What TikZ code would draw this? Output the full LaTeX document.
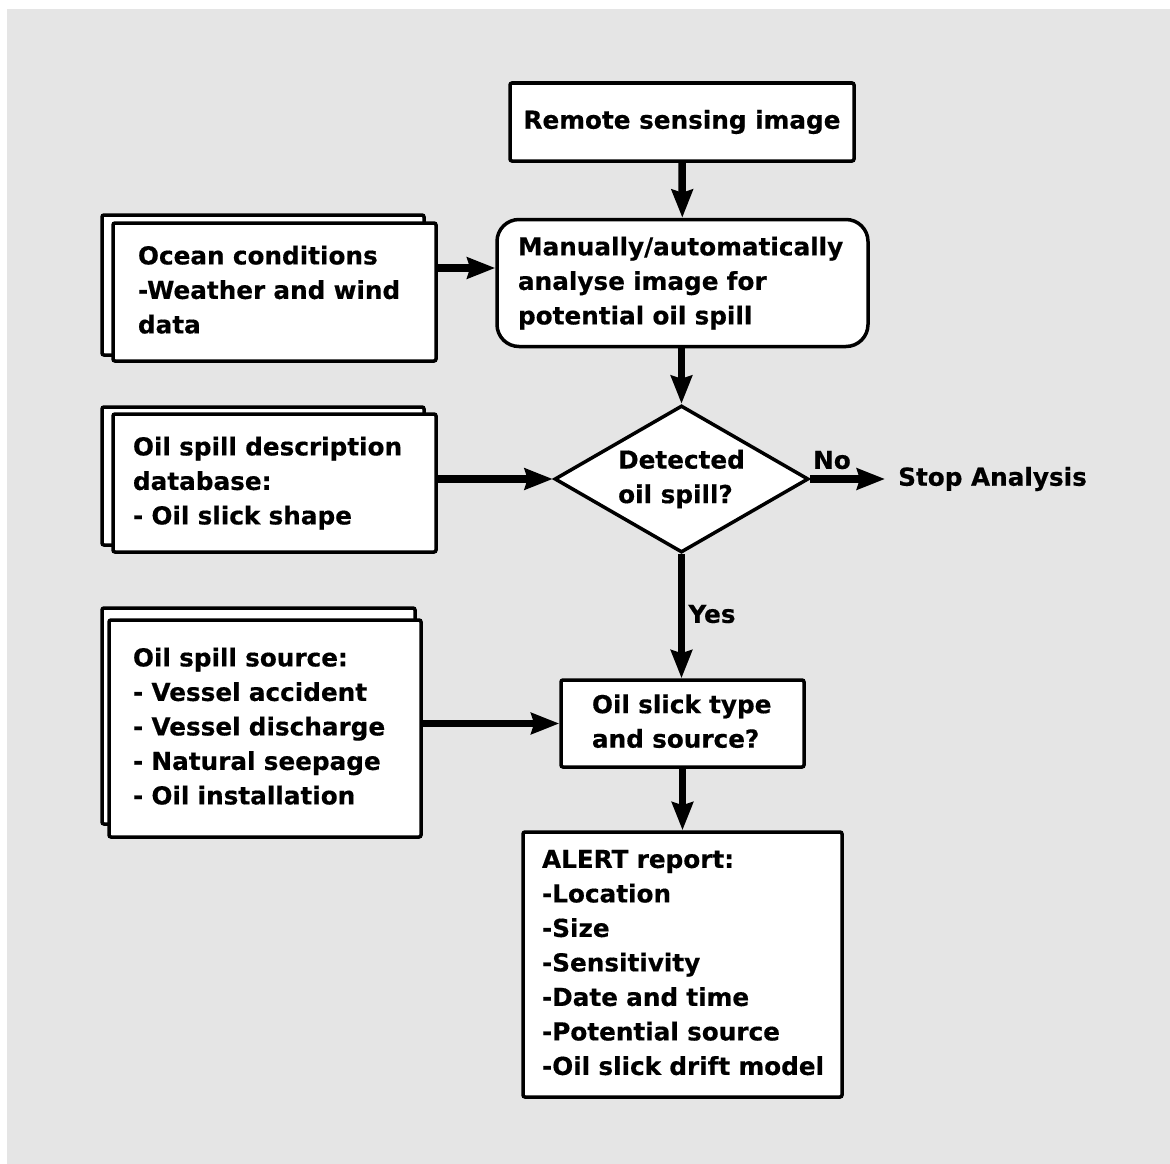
\documentclass[tikz,border=0pt]{standalone}
\usepackage{fontspec}
\setmainfont{DejaVu Sans}[BoldFeatures={FakeBold=0.5}]
\usetikzlibrary{shapes.geometric,arrows.meta}

\definecolor{panel}{HTML}{E5E5E5}

% a left-aligned block of lines that never wraps
\newcommand\linesblock[1]{\begin{tabular}{@{}l@{}}#1\end{tabular}}

\tikzset{
  every node/.style={font=\bfseries\fontsize{24.7}{34.5}\selectfont},
  box/.style={draw, fill=white, line width=3.5pt, rounded corners=2pt,
              align=left, inner ysep=0pt},
  backbox/.style={draw, fill=white, line width=3.5pt, rounded corners=2pt},
  roundbox/.style={box, rounded corners=22pt},
  decision/.style={diamond, draw, fill=white, line width=3.5pt, inner sep=0pt,
                   aspect=1.728, align=left,
                   minimum width=254pt, minimum height=147pt},
  flow/.style={line width=7.5pt, -{Stealth[length=28pt,width=21pt,inset=3pt]}},
  tag/.style={inner sep=0pt}
}

\begin{document}
\begin{tikzpicture}[x=1pt, y=-1pt]
  \useasboundingbox (0,0) rectangle (1170,1164);
  \fill[panel] (7,9) rectangle (1170,1164);

  % main column
  \node[box, align=center, minimum width=344pt, minimum height=78pt]
    (remote) at (682,122) {Remote sensing image};
  \node[roundbox, inner xsep=21pt, text width=329pt, minimum height=127pt]
    (manual) at (682.5,283) {\linesblock{Manually/automatically\\analyse image for\\potential oil spill}};
  \node[decision] (dec) at (681.5,479) {Detected\\oil spill?};
  \node[box, inner xsep=31pt, text width=181pt, minimum height=87pt]
    (typ) at (682.5,723.5) {\linesblock{Oil slick type\\and source?}};
  \node[box, inner xsep=19pt, text width=281pt, minimum height=265pt]
    (alert) at (682.5,964.5) {\linesblock{ALERT report:\\-Location\\-Size\\-Sensitivity\\-Date and time\\-Potential source\\-Oil slick drift model}};
  \node[tag, anchor=west, inner xsep=13pt] (stop) at (885,479) {Stop Analysis};

  % stacked input sheets
  \draw[backbox] (102,215) rectangle (424,355);
  \node[box, inner xsep=25pt, text width=273pt, minimum height=138pt]
    (ocean) at (274.5,292) {\linesblock{Ocean conditions\\-Weather and wind\\data}};
  \draw[backbox] (102,407) rectangle (424,545);
  \node[box, inner xsep=20pt, text width=283pt, minimum height=138pt]
    (db) at (274.5,483) {\linesblock{Oil spill description\\database:\\- Oil slick shape}};
  \draw[backbox] (102,608) rectangle (415,824);
  \node[box, inner xsep=24pt, text width=264pt, minimum height=217pt]
    (src) at (265,728.5) {\linesblock{Oil spill source:\\- Vessel accident\\- Vessel discharge\\- Natural seepage\\- Oil installation}};

  % connectors
  \coordinate (oceanrow) at (470,268);
  \draw[flow] (remote) -- (manual);
  \draw[flow] (manual.south -| dec.north) -- (dec.north);
  \draw[flow] (ocean.east |- oceanrow) -- (manual.west |- oceanrow);
  \draw[flow] (db.east |- dec.west) -- (dec.west);
  \draw[flow] (dec.east) -- (stop.west |- dec.east);
  \draw[flow] (dec.south) -- (typ.north -| dec.south);
  \draw[flow] (src.east |- typ.west) -- (typ.west);
  \draw[flow] (typ.south -| alert.north) -- (alert.north);

  % branch labels
  \node[tag] (nolabel) at (832,460) {No};
  \node[tag] (yeslabel) at (712,614) {Yes};
\end{tikzpicture}
\end{document}
